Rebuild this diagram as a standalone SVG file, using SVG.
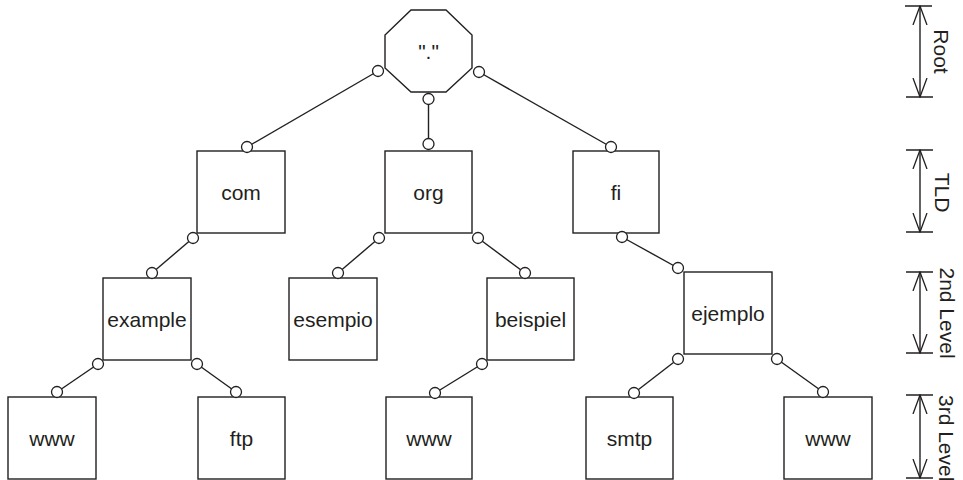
<svg xmlns="http://www.w3.org/2000/svg" width="963" height="480" viewBox="0 0 963 480">
<style>
.box{fill:#fff;stroke:#231f20;stroke-width:1.4}
.lbl{font-family:"Liberation Sans",Arial,sans-serif;font-size:21px;fill:#231f20;text-anchor:middle}
.con{stroke:#231f20;stroke-width:1.4;fill:none}
.pt{fill:#fff;stroke:#231f20;stroke-width:1.3}
.rul{stroke:#231f20;stroke-width:1.4;fill:none}
.rlbl{font-family:"Liberation Sans",Arial,sans-serif;font-size:21px;fill:#231f20}
</style>
<defs>
<marker id="open" viewBox="0 0 20 16" refX="19" refY="8" markerWidth="20" markerHeight="16" markerUnits="userSpaceOnUse" orient="auto-start-reverse">
<path d="M0,1 L19,8 L0,15" fill="none" stroke="#231f20" stroke-width="1.3"/>
</marker>
</defs>
<rect width="963" height="480" fill="#fff"/>

<g id="connectors">
<line class="con" x1="378" y1="71" x2="247" y2="147"/>
<line class="con" x1="428.5" y1="99" x2="428.5" y2="144"/>
<line class="con" x1="479" y1="72" x2="611" y2="147"/>
<line class="con" x1="193" y1="238" x2="152" y2="273"/>
<line class="con" x1="379" y1="238" x2="338" y2="273"/>
<line class="con" x1="478" y1="238" x2="525" y2="273"/>
<line class="con" x1="622" y1="237" x2="678" y2="268"/>
<line class="con" x1="98" y1="364" x2="57" y2="392"/>
<line class="con" x1="197" y1="364" x2="236" y2="392"/>
<line class="con" x1="482" y1="364" x2="435" y2="393"/>
<line class="con" x1="678" y1="359" x2="634" y2="393"/>
<line class="con" x1="777" y1="359" x2="823" y2="392"/>
</g>

<g id="root">
<polygon class="box" points="411,10 446,10 472,35 472,68 446,92 411,92 385,68 385,35"/>
<text class="lbl" x="428.5" y="59">"."</text>
</g>
<g id="com"><rect class="box" x="197" y="151" width="88" height="82"/><text class="lbl" x="241" y="199.5">com</text></g>
<g id="org"><rect class="box" x="385" y="151" width="87" height="82"/><text class="lbl" x="428.5" y="199.5">org</text></g>
<g id="fi"><rect class="box" x="573" y="151" width="86" height="82"/><text class="lbl" x="616" y="199.5">fi</text></g>
<g id="example"><rect class="box" x="103" y="278" width="88" height="82"/><text class="lbl" x="147" y="326.5">example</text></g>
<g id="esempio"><rect class="box" x="289" y="278" width="88" height="82"/><text class="lbl" x="333" y="326.5">esempio</text></g>
<g id="beispiel"><rect class="box" x="487" y="278" width="87" height="82"/><text class="lbl" x="530.5" y="326.5">beispiel</text></g>
<g id="ejemplo"><rect class="box" x="684" y="272" width="88" height="82"/><text class="lbl" x="728" y="320.5">ejemplo</text></g>
<g id="www1"><rect class="box" x="8" y="397" width="88" height="82"/><text class="lbl" x="52" y="445.5">www</text></g>
<g id="ftp"><rect class="box" x="198" y="397" width="87" height="82"/><text class="lbl" x="241.5" y="445.5">ftp</text></g>
<g id="www2"><rect class="box" x="386" y="397" width="86" height="82"/><text class="lbl" x="429" y="445.5">www</text></g>
<g id="smtp"><rect class="box" x="586" y="397" width="87" height="82"/><text class="lbl" x="629.5" y="445.5">smtp</text></g>
<g id="www3"><rect class="box" x="784" y="397" width="88" height="82"/><text class="lbl" x="828" y="445.5">www</text></g>

<g id="ports">
<circle class="pt" cx="378" cy="71" r="5.5"/>
<circle class="pt" cx="428.5" cy="99" r="5.5"/>
<circle class="pt" cx="479" cy="72" r="5.5"/>
<circle class="pt" cx="247" cy="147" r="5.5"/>
<circle class="pt" cx="428.5" cy="144" r="5.5"/>
<circle class="pt" cx="611" cy="147" r="5.5"/>
<circle class="pt" cx="193" cy="238" r="5.5"/>
<circle class="pt" cx="379" cy="238" r="5.5"/>
<circle class="pt" cx="478" cy="238" r="5.5"/>
<circle class="pt" cx="622" cy="237" r="5.5"/>
<circle class="pt" cx="152" cy="273" r="5.5"/>
<circle class="pt" cx="338" cy="273" r="5.5"/>
<circle class="pt" cx="525" cy="273" r="5.5"/>
<circle class="pt" cx="678" cy="268" r="5.5"/>
<circle class="pt" cx="98" cy="364" r="5.5"/>
<circle class="pt" cx="197" cy="364" r="5.5"/>
<circle class="pt" cx="482" cy="364" r="5.5"/>
<circle class="pt" cx="678" cy="359" r="5.5"/>
<circle class="pt" cx="777" cy="359" r="5.5"/>
<circle class="pt" cx="57" cy="392" r="5.5"/>
<circle class="pt" cx="236" cy="392" r="5.5"/>
<circle class="pt" cx="435" cy="393" r="5.5"/>
<circle class="pt" cx="634" cy="393" r="5.5"/>
<circle class="pt" cx="823" cy="392" r="5.5"/>
</g>

<g id="rulers">
<path class="rul" d="M905,6 H932 M906,97 H933 M906,150 H933 M906,232 H933 M906,272 H933 M906,353 H933 M906,395 H933 M906,478 H933"/>
<line class="rul" x1="920" y1="6" x2="920" y2="97" marker-start="url(#open)" marker-end="url(#open)"/>
<line class="rul" x1="920" y1="150" x2="920" y2="232" marker-start="url(#open)" marker-end="url(#open)"/>
<line class="rul" x1="920" y1="272" x2="920" y2="353" marker-start="url(#open)" marker-end="url(#open)"/>
<line class="rul" x1="920" y1="395" x2="920" y2="478" marker-start="url(#open)" marker-end="url(#open)"/>
<text class="rlbl" text-anchor="middle" transform="translate(934,51.5) rotate(90)">Root</text>
<text class="rlbl" text-anchor="middle" transform="translate(935,192.5) rotate(90)">TLD</text>
<text class="rlbl" text-anchor="middle" transform="translate(940,313) rotate(90)">2nd Level</text>
<text class="rlbl" text-anchor="start" transform="translate(939,395) rotate(90)">3rd Level</text>
</g>
</svg>
